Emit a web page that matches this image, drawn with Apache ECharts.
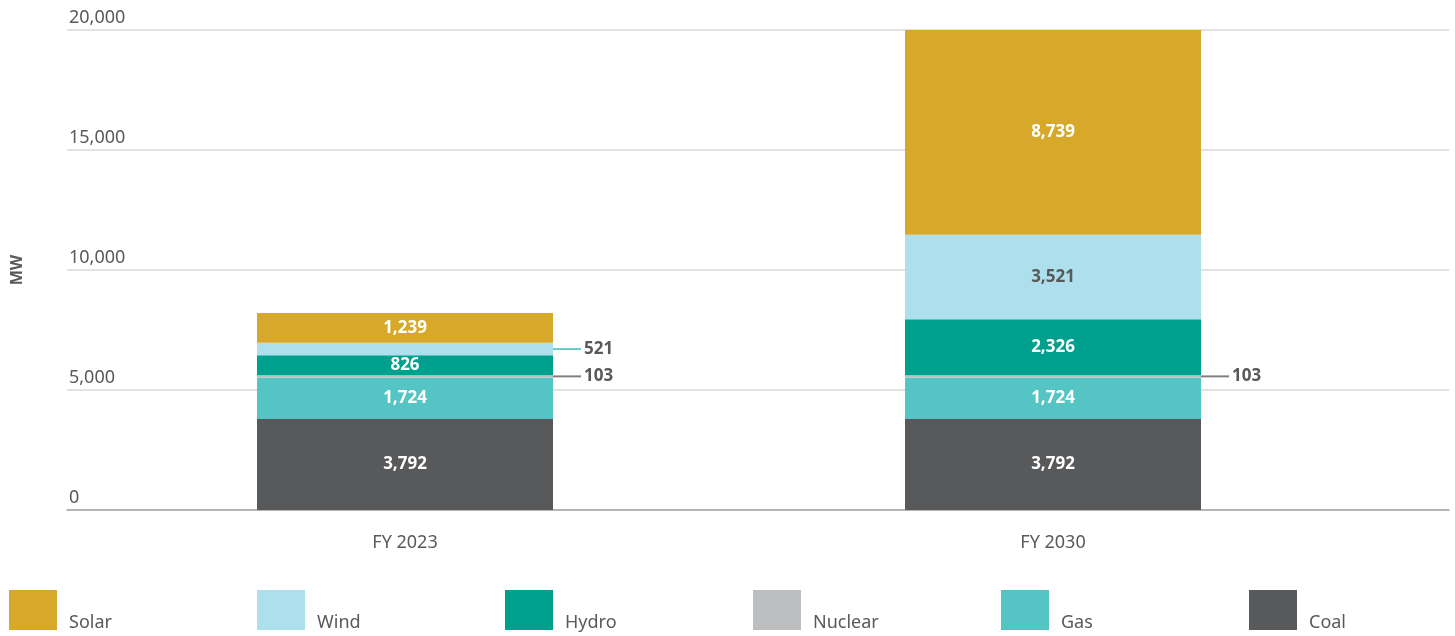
<!DOCTYPE html>
<html>
<head>
<meta charset="utf-8">
<script src="https://cdn.jsdelivr.net/npm/echarts@6/dist/echarts.min.js"></script>
<style>
  html, body { margin: 0; padding: 0; background: #fff; }
  #main { width: 1455px; height: 636px; }
</style>
</head>
<body>
<div id="main"></div>
<script>
// 数据
var years = ['FY 2023', 'FY 2030'];
var coal = [3792, 3792];
var gas = [1724, 1724];
var nuclear = [103, 103];
var hydro = [826, 2326];
var wind = [521, 3521];
var solar = [1239, 8739];
var yTicks = [0, 5000, 10000, 15000, 20000];

var FONT = '"Noto Sans", sans-serif';
var GREY = '#595959';

// 外侧标签（带引线）
function outsideLabel(lineColor) {
  return {
    position: 'right',
    distance: 0,
    formatter: function (p) { return '{l|}{v|' + p.value.toLocaleString('en-US') + '}'; },
    rich: {
      l: { width: 28, height: 2, backgroundColor: lineColor },
      v: { color: GREY, fontWeight: 'bold', fontSize: 17, fontFamily: FONT, padding: [0, 0, 0, 3] }
    }
  };
}

function makeData(arr, outside) {
  return arr.map(function (v, i) {
    if (outside && outside[i]) return { value: v, label: outside[i] };
    return v;
  });
}

function barSeries(name, arr, color, textColor, outside) {
  return {
    name: name,
    type: 'bar',
    stack: 'total',
    xAxisIndex: 1,
    yAxisIndex: 1,
    barWidth: 296,
    itemStyle: { color: color },
    label: {
      show: true,
      position: 'inside',
      color: textColor,
      fontWeight: 'bold',
      fontSize: 17,
      fontFamily: FONT,
      formatter: function (p) { return p.value.toLocaleString('en-US'); }
    },
    data: makeData(arr, outside)
  };
}

var colors = {
  Solar: '#D7A829', Wind: '#ADDFED', Hydro: '#00A08F',
  Nuclear: '#BDBEC0', Gas: '#55C4C4', Coal: '#58595B'
};
var legendNames = ['Solar', 'Wind', 'Hydro', 'Nuclear', 'Gas', 'Coal'];

// 每个图例单独放置，间距固定
var legends = legendNames.map(function (n, i) {
  return {
    left: 9 + 248 * i, top: 590, padding: 0,
    itemWidth: 48, itemHeight: 40,
    icon: 'rect',
    selectedMode: false,
    data: [n],
    formatter: '{t|{name}}',
    textStyle: {
      rich: { t: { color: GREY, fontSize: 18, fontFamily: FONT, padding: [26, 0, 0, 7] } }
    }
  };
});

var option = {
  animation: false,
  backgroundColor: '#fff',
  grid: [
    { left: 67, right: 6, top: 30, bottom: 126, outerBoundsMode: 'none' },
    { left: 81, right: 78, top: 30, bottom: 126, outerBoundsMode: 'none' }
  ],
  legend: legends,
  xAxis: [
    {
      gridIndex: 0, type: 'category', data: [''],
      axisLine: { lineStyle: { color: '#a6a6a6', width: 1.5 } },
      axisTick: { show: false }, axisLabel: { show: false }
    },
    {
      gridIndex: 1, type: 'category', data: years,
      axisLine: { show: false }, axisTick: { show: false },
      axisLabel: { color: GREY, fontSize: 18, fontFamily: FONT, margin: 24 }
    }
  ],
  yAxis: [
    {
      gridIndex: 0, type: 'value', min: 0, max: 20000, interval: 5000,
      name: 'MW', nameLocation: 'middle', nameRotate: 90, nameGap: 42,
      nameTextStyle: { color: GREY, fontSize: 16, fontWeight: 'bold', fontFamily: FONT },
      axisLine: { show: false }, axisTick: { show: false },
      splitLine: { lineStyle: { color: '#d9d9d9', width: 1.5 } },
      axisLabel: {
        inside: true, margin: 2, verticalAlign: 'bottom',
        color: GREY, fontSize: 18, fontFamily: FONT, padding: [0, 0, 3, 0],
        formatter: function (v) { return yTicks.indexOf(v) >= 0 ? v.toLocaleString('en-US') : ''; }
      }
    },
    {
      gridIndex: 1, type: 'value', min: 0, max: 20000, interval: 5000,
      show: false, splitLine: { show: false }
    }
  ],
  series: [
    barSeries('Coal', coal, colors.Coal, '#fff'),
    barSeries('Gas', gas, colors.Gas, '#fff'),
    barSeries('Nuclear', nuclear, colors.Nuclear, '#fff',
      [outsideLabel('#808080'), outsideLabel('#808080')]),
    barSeries('Hydro', hydro, colors.Hydro, '#fff'),
    barSeries('Wind', wind, colors.Wind, GREY, [outsideLabel('#6ccaca'), null]),
    barSeries('Solar', solar, colors.Solar, '#fff')
  ]
};

var myChart = echarts.init(document.getElementById('main'));
myChart.setOption(option);
</script>
</body>
</html>
